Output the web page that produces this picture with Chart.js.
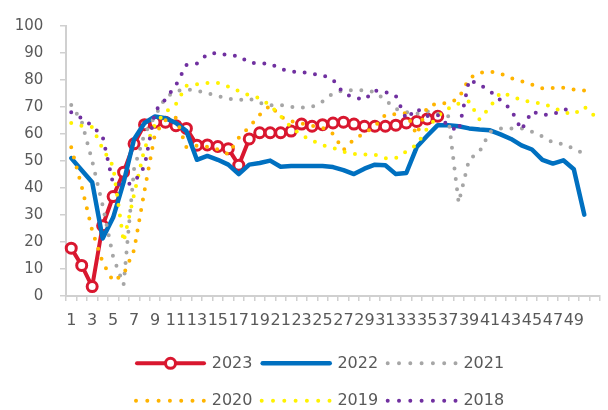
<!DOCTYPE html>
<html>
<head>
<meta charset="utf-8">
<script src="https://cdn.jsdelivr.net/npm/chart.js@4/dist/chart.umd.min.js"></script>
<style>
  html, body { margin: 0; padding: 0; background: #ffffff; }
  #wrap { width: 608px; height: 410px; }
</style>
</head>
<body>
<div id="wrap"><canvas id="chart" width="608" height="410"></canvas></div>
<script>
// Week numbers on the category axis
const weeks = ['1','2','3','4','5','6','7','8','9','10','11','12','13','14','15','16','17',
  '18','19','20','21','22','23','24','25','26','27','28','29','30','31','32','33','34',
  '35','36','37','38','39','40','41','42','43','44','45','46','47','48','49','50','51'];

// Weekly values by year
const y2023 = [17.7, 11.3, 3.5, 26.0, 36.8, 45.8, 56.3, 63.4, 64.3, 64.3, 63.0, 62.0, 55.8, 55.9,
  55.3, 54.5, 48.4, 58.1, 60.4, 60.4, 60.4, 61.0, 63.6, 62.8, 63.4, 64.0, 64.3, 63.6, 62.8, 62.8,
  62.8, 63.2, 64.0, 64.6, 65.5, 66.5];

const y2022 = [51.0, 46.5, 42.1, 21.3, 29.0, 42.0, 58.0, 64.0, 66.4, 65.8, 64.0, 61.0, 50.4, 51.8,
  50.4, 48.6, 45.1, 48.6, 49.2, 50.1, 47.8, 48.1, 48.1, 48.1, 48.1, 47.7, 46.6, 45.1, 47.1, 48.6,
  48.4, 45.1, 45.5, 55.1, 59.3, 63.2, 63.2, 62.8, 62.0, 61.6, 61.3, 59.8, 58.1, 55.7, 54.2, 50.4,
  49.0, 50.2, 46.9, 30.1];

const y2021 = [70.7, 64.5, 50.0, 33.5, 14.5, 4.2, 47.0, 60.0, 66.5, 73.5, 75.8, 76.4, 76.0, 75.0,
  74.0, 73.0, 72.5, 73.0, 71.5, 70.5, 70.7, 70.0, 69.7, 70.0, 72.0, 75.0, 76.1, 76.1, 76.1, 75.5,
  72.5, 69.2, 68.0, 67.5, 68.3, 67.5, 66.5, 34.5, 50.5, 53.5, 60.8, 62.0, 62.0, 62.0, 60.8, 59.0,
  56.8, 56.2, 54.5, 52.5];

const y2020 = [55.0, 40.5, 24.2, 12.5, 5.5, 8.0, 17.0, 39.0, 60.0, 65.0, 66.0, 55.0, 55.6, 55.2,
  54.2, 52.5, 58.5, 62.5, 67.0, 70.5, 66.3, 64.7, 63.8, 63.0, 62.2, 60.0, 54.0, 58.0, 60.2, 62.8,
  67.0, 67.3, 67.7, 59.6, 70.0, 71.3, 71.3, 73.0, 80.5, 82.6, 83.0, 82.3, 80.6, 79.5, 78.2, 76.8,
  77.0, 77.0, 76.4, 76.0];

const y2019 = [64.0, 63.0, 62.5, 54.5, 48.0, 20.0, 37.5, 54.5, 63.5, 68.0, 71.0, 77.8, 78.3, 78.8,
  78.8, 77.5, 75.8, 74.2, 73.2, 70.5, 66.5, 62.5, 59.5, 57.5, 55.8, 54.8, 53.4, 52.5, 52.4, 52.3,
  51.0, 51.0, 53.5, 56.0, 62.0, 66.5, 69.3, 71.2, 72.0, 65.3, 70.0, 75.3, 74.0, 72.5, 71.7, 71.2,
  69.8, 68.0, 67.2, 70.0, 66.5];

const y2018 = [68.0, 65.8, 63.0, 59.0, 41.5, 41.0, 42.0, 48.0, 68.3, 72.8, 78.0, 85.5, 86.0, 89.5,
  90.0, 89.0, 88.8, 86.3, 86.0, 86.0, 84.0, 83.0, 82.9, 82.2, 81.7, 80.0, 75.0, 73.5, 72.6, 76.0,
  75.5, 74.0, 65.5, 69.3, 66.6, 67.0, 63.0, 61.0, 80.0, 78.2, 75.8, 72.4, 69.0, 61.5, 68.3, 67.0,
  67.2, 69.0, 69.0];

const TEXT = '#595959';
const AXIS = '#d0d0d0';
const FONT = '"DejaVu Sans", "Liberation Sans", sans-serif';
const DOT = [0, 10.5];

function solid(label, data, color, width, order) {
  return {
    label, data, order,
    borderColor: color, backgroundColor: color, borderWidth: width,
    borderCapStyle: 'round', borderJoinStyle: 'round',
    pointRadius: 0, pointHoverRadius: 0, tension: 0, fill: false
  };
}
function dotted(label, data, color, order) {
  const ds = solid(label, data, color, 4, order);
  ds.borderDash = DOT;
  return ds;
}

const d2023 = solid('2023', y2023, '#d9172f', 4, 6);
d2023.pointRadius = 5;
d2023.pointHoverRadius = 5;
d2023.pointBackgroundColor = '#ffffff';
d2023.pointBorderColor = '#d9172f';
d2023.pointBorderWidth = 3;

const datasets = [
  d2023,
  solid('2022', y2022, '#0070c0', 4.5, 5),
  dotted('2021', y2021, '#a6a6a6', 4),
  dotted('2020', y2020, '#ffb400', 3),
  dotted('2019', y2019, '#fff200', 2),
  dotted('2018', y2018, '#7030a0', 1)
];

// Two-row legend under the axis: line sample, optional marker, year label
const yearLegend = {
  id: 'yearLegend',
  afterDraw(chart) {
    const ctx = chart.ctx;
    const cols = [135, 260.7, 386.7];
    const rows = [363.3, 400.7];
    chart.data.datasets.forEach((ds, i) => {
      const x0 = cols[i % 3];
      const y = rows[Math.floor(i / 3)];
      ctx.save();
      ctx.strokeStyle = ds.borderColor;
      ctx.lineWidth = ds.borderWidth;
      ctx.lineCap = 'round';
      ctx.beginPath();
      if (ds.borderDash) {
        ctx.setLineDash([0, 11.3]);
        ctx.moveTo(x0 + 1, y);
        ctx.lineTo(x0 + 70, y);
      } else {
        ctx.setLineDash([]);
        ctx.moveTo(x0 + 2, y);
        ctx.lineTo(x0 + 69, y);
      }
      ctx.stroke();
      if (ds.pointRadius > 0) {
        ctx.setLineDash([]);
        ctx.beginPath();
        ctx.arc(x0 + 35.5, y, ds.pointRadius, 0, Math.PI * 2);
        ctx.fillStyle = ds.pointBackgroundColor;
        ctx.fill();
        ctx.lineWidth = ds.pointBorderWidth;
        ctx.strokeStyle = ds.pointBorderColor;
        ctx.stroke();
      }
      ctx.fillStyle = TEXT;
      ctx.font = '16px ' + FONT;
      ctx.textBaseline = 'middle';
      ctx.textAlign = 'left';
      ctx.fillText(ds.label, x0 + 76.7, y + 0.5);
      ctx.restore();
    });
  }
};

Chart.defaults.font.family = FONT;
Chart.defaults.color = TEXT;

new Chart(document.getElementById('chart'), {
  type: 'line',
  data: { labels: weeks, datasets },
  plugins: [yearLegend],
  options: {
    responsive: false,
    animation: false,
    devicePixelRatio: 1,
    layout: { padding: { left: 0, right: 8, top: 13, bottom: 74 } },
    plugins: {
      legend: { display: false },
      tooltip: { enabled: false }
    },
    scales: {
      x: {
        type: 'category',
        offset: true,
        grid: { display: true, offset: true, drawOnChartArea: false, drawTicks: true,
                tickLength: 5, color: AXIS, lineWidth: 1.5 },
        border: { display: true, color: AXIS, width: 2 },
        ticks: {
          autoSkip: false, maxRotation: 0, minRotation: 0, padding: 10,
          color: TEXT, font: { size: 16 },
          callback: (v, i) => (i % 2 === 0 && i < weeks.length - 1) ? weeks[i] : ''
        },
        afterFit: (s) => { s.height = 40; }
      },
      y: {
        min: 0, max: 100,
        grid: { display: true, drawOnChartArea: false, drawTicks: true,
                tickLength: 6, color: AXIS, lineWidth: 1.5 },
        border: { display: true, color: AXIS, width: 2 },
        ticks: { stepSize: 10, padding: 16.7, color: TEXT, font: { size: 15 } },
        afterFit: (s) => { s.width = 66; }
      }
    }
  }
});
</script>
</body>
</html>
